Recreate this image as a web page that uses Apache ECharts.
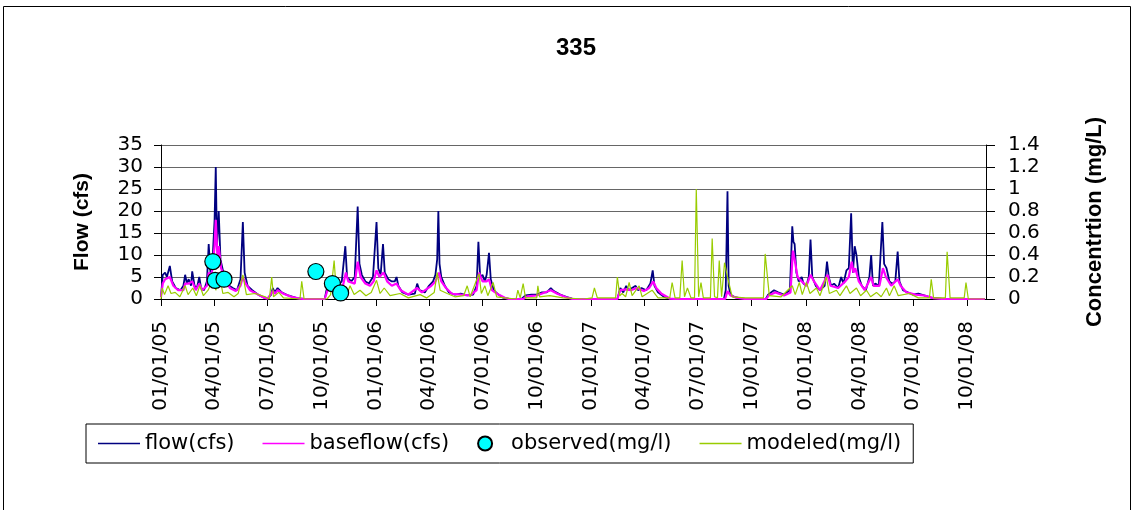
<!DOCTYPE html>
<html>
<head>
<meta charset="utf-8">
<script src="https://cdn.jsdelivr.net/npm/echarts@6/dist/echarts.min.js"></script>
<style>
  html, body { margin: 0; padding: 0; background: #fff; }
  #echart { width: 1135px; height: 510px; }
</style>
</head>
<body>
<div id="echart"></div>
<script>
// quarterly ticks on the date axis
const tickLabels = ['01/01/05', '04/01/05', '07/01/05', '10/01/05', '01/01/06', '04/01/06', '07/01/06', '10/01/06',
  '01/01/07', '04/01/07', '07/01/07', '10/01/07', '01/01/08', '04/01/08', '07/01/08', '10/01/08'];

// flow (cfs), left axis
const flow = [
  ['2005-01-01', 0.5], ['2005-01-04', 5.5], ['2005-01-08', 6], ['2005-01-11', 5], ['2005-01-16', 7.5], ['2005-01-20', 4],
  ['2005-01-26', 2.5], ['2005-02-03', 2], ['2005-02-08', 3], ['2005-02-11', 5.5], ['2005-02-14', 3.5], ['2005-02-17', 4.5],
  ['2005-02-21', 3], ['2005-02-23', 6.3], ['2005-02-27', 3], ['2005-03-03', 2.5], ['2005-03-07', 5], ['2005-03-10', 2.5],
  ['2005-03-15', 2], ['2005-03-20', 4], ['2005-03-23', 12.5], ['2005-03-26', 6], ['2005-03-30', 10], ['2005-04-02', 18],
  ['2005-04-04', 30], ['2005-04-06', 12], ['2005-04-09', 20], ['2005-04-12', 9], ['2005-04-17', 6], ['2005-04-22', 4],
  ['2005-04-27', 3], ['2005-05-03', 2.5], ['2005-05-10', 2], ['2005-05-16', 4.5], ['2005-05-20', 17.5], ['2005-05-23', 6],
  ['2005-05-28', 3], ['2005-06-05', 2], ['2005-06-15', 1], ['2005-06-25', 0.3], ['2005-07-01', 0.1], ['2005-07-07', 1],
  ['2005-07-10', 2.5], ['2005-07-13', 1.5], ['2005-07-18', 2.5], ['2005-07-25', 1.5], ['2005-08-05', 0.8], ['2005-08-20', 0.2],
  ['2005-09-01', 0], ['2005-10-06', 0], ['2005-10-09', 2], ['2005-10-13', 3.5], ['2005-10-20', 4], ['2005-10-28', 3],
  ['2005-11-04', 4], ['2005-11-10', 12], ['2005-11-13', 5], ['2005-11-20', 4], ['2005-11-26', 5], ['2005-12-01', 21],
  ['2005-12-04', 8], ['2005-12-08', 5.5], ['2005-12-14', 4], ['2005-12-20', 3.5], ['2005-12-27', 5],
  ['2006-01-02', 17.5], ['2006-01-05', 7], ['2006-01-09', 5.5], ['2006-01-13', 12.5], ['2006-01-16', 6], ['2006-01-22', 4.5],
  ['2006-01-28', 4], ['2006-02-02', 4], ['2006-02-05', 5], ['2006-02-08', 3], ['2006-02-15', 1.5], ['2006-02-25', 1],
  ['2006-03-08', 1.2], ['2006-03-12', 3.5], ['2006-03-16', 2], ['2006-03-25', 1.5], ['2006-04-01', 3], ['2006-04-08', 4],
  ['2006-04-12', 5.5], ['2006-04-15', 9], ['2006-04-17', 20], ['2006-04-19', 8], ['2006-04-22', 5], ['2006-04-28', 3],
  ['2006-05-05', 1.5], ['2006-05-15', 1], ['2006-05-25', 1.2], ['2006-06-05', 0.8], ['2006-06-15', 1], ['2006-06-21', 3],
  ['2006-06-24', 13], ['2006-06-27', 5], ['2006-07-01', 5.5], ['2006-07-05', 4], ['2006-07-08', 5.5], ['2006-07-12', 10.5],
  ['2006-07-15', 4.5], ['2006-07-20', 2], ['2006-07-28', 1], ['2006-08-05', 0.3], ['2006-08-15', 0], ['2006-09-05', 0],
  ['2006-09-12', 0.8], ['2006-09-22', 1], ['2006-10-01', 1], ['2006-10-10', 1.5], ['2006-10-18', 1.5], ['2006-10-25', 2.5],
  ['2006-10-30', 1.8], ['2006-11-10', 1], ['2006-11-20', 0.5], ['2006-11-30', 0.1], ['2006-12-05', 0],
  ['2007-02-15', 0], ['2007-02-20', 2.5], ['2007-02-25', 1.5], ['2007-03-02', 3], ['2007-03-06', 2], ['2007-03-12', 2.5],
  ['2007-03-18', 3], ['2007-03-22', 2], ['2007-03-28', 2.5], ['2007-04-05', 2], ['2007-04-12', 3.5], ['2007-04-16', 6.5],
  ['2007-04-19', 3], ['2007-04-25', 1.5], ['2007-05-05', 0.5], ['2007-05-15', 0.1], ['2007-05-25', 0],
  ['2007-08-15', 0], ['2007-08-18', 2], ['2007-08-21', 24.5], ['2007-08-23', 3], ['2007-08-26', 1], ['2007-09-01', 0.5],
  ['2007-09-10', 0.2], ['2007-09-20', 0], ['2007-10-25', 0], ['2007-10-29', 1], ['2007-11-01', 0.8], ['2007-11-08', 2],
  ['2007-11-15', 1.5], ['2007-11-25', 1], ['2007-12-05', 2], ['2007-12-09', 16.5], ['2007-12-11', 13], ['2007-12-13', 12.5],
  ['2007-12-16', 6], ['2007-12-20', 4], ['2007-12-25', 5], ['2007-12-28', 3.5],
  ['2008-01-02', 3], ['2008-01-06', 5], ['2008-01-09', 13.5], ['2008-01-12', 5], ['2008-01-18', 3], ['2008-01-25', 2],
  ['2008-02-02', 3], ['2008-02-06', 8.5], ['2008-02-09', 5], ['2008-02-13', 3], ['2008-02-18', 3.5], ['2008-02-25', 2.5],
  ['2008-03-01', 5], ['2008-03-05', 3.5], ['2008-03-10', 6.5], ['2008-03-14', 7], ['2008-03-18', 19.5], ['2008-03-21', 6],
  ['2008-03-24', 12], ['2008-03-27', 10], ['2008-03-31', 5], ['2008-04-05', 3], ['2008-04-12', 2], ['2008-04-18', 5],
  ['2008-04-21', 10], ['2008-04-24', 3], ['2008-04-28', 3.5], ['2008-05-04', 3], ['2008-05-10', 17.5], ['2008-05-13', 8],
  ['2008-05-17', 7], ['2008-05-22', 4], ['2008-05-27', 3.5], ['2008-06-01', 4], ['2008-06-05', 10.8], ['2008-06-08', 4],
  ['2008-06-14', 2], ['2008-06-22', 1.5], ['2008-07-01', 1], ['2008-07-10', 1.2], ['2008-07-20', 0.8], ['2008-08-01', 0.3],
  ['2008-08-10', 0.2], ['2008-08-20', 0], ['2008-10-31', 0]
];

// baseflow (cfs), left axis
const baseflow = [
  ['2005-01-01', 0.5], ['2005-01-04', 3.5], ['2005-01-08', 4.5], ['2005-01-16', 5], ['2005-01-22', 3], ['2005-01-30', 2],
  ['2005-02-08', 2], ['2005-02-11', 3.5], ['2005-02-17', 3.5], ['2005-02-23', 4], ['2005-03-01', 2], ['2005-03-07', 3.5],
  ['2005-03-12', 2], ['2005-03-20', 3], ['2005-03-23', 6], ['2005-03-28', 5.5], ['2005-04-02', 12], ['2005-04-04', 18],
  ['2005-04-07', 9], ['2005-04-09', 12], ['2005-04-13', 7], ['2005-04-20', 4.5], ['2005-04-28', 2.5], ['2005-05-08', 1.8],
  ['2005-05-16', 3], ['2005-05-20', 5], ['2005-05-25', 3.5], ['2005-06-01', 2], ['2005-06-15', 1], ['2005-06-25', 0.3],
  ['2005-07-01', 0.1], ['2005-07-10', 1.8], ['2005-07-14', 1.2], ['2005-07-18', 2], ['2005-07-28', 1.2], ['2005-08-10', 0.5],
  ['2005-08-25', 0.1], ['2005-09-01', 0], ['2005-10-06', 0], ['2005-10-12', 2.5], ['2005-10-20', 3], ['2005-10-30', 2.5],
  ['2005-11-06', 3], ['2005-11-11', 6], ['2005-11-15', 4], ['2005-11-26', 3.5], ['2005-12-01', 8.5], ['2005-12-06', 5],
  ['2005-12-14', 3.5], ['2005-12-22', 3], ['2005-12-28', 4],
  ['2006-01-02', 6.5], ['2006-01-07', 5], ['2006-01-14', 6], ['2006-01-20', 4], ['2006-01-28', 3], ['2006-02-05', 3.5],
  ['2006-02-12', 2], ['2006-02-25', 1], ['2006-03-12', 2.5], ['2006-03-20', 1.5], ['2006-04-05', 3], ['2006-04-12', 4],
  ['2006-04-18', 6], ['2006-04-22', 4], ['2006-04-30', 2.5], ['2006-05-10', 1.2], ['2006-05-25', 1], ['2006-06-10', 0.8],
  ['2006-06-21', 2], ['2006-06-25', 6], ['2006-07-01', 4], ['2006-07-08', 4], ['2006-07-12', 4.5], ['2006-07-17', 2],
  ['2006-07-28', 1], ['2006-08-08', 0.3], ['2006-08-15', 0], ['2006-09-08', 0], ['2006-09-15', 0.6], ['2006-10-01', 0.8],
  ['2006-10-25', 2], ['2006-11-05', 1.2], ['2006-11-20', 0.4], ['2006-12-01', 0],
  ['2007-02-15', 0], ['2007-02-20', 2], ['2007-03-01', 2.2], ['2007-03-10', 2], ['2007-03-20', 2.5], ['2007-04-01', 1.8],
  ['2007-04-10', 2.5], ['2007-04-17', 4], ['2007-04-22', 2.5], ['2007-05-01', 1.2], ['2007-05-15', 0.1], ['2007-05-25', 0],
  ['2007-08-17', 0], ['2007-08-21', 1.8], ['2007-08-26', 0.8], ['2007-09-05', 0.3], ['2007-09-20', 0], ['2007-10-26', 0],
  ['2007-10-30', 0.8], ['2007-11-10', 1.5], ['2007-11-25', 0.8], ['2007-12-06', 1.5], ['2007-12-10', 11], ['2007-12-13', 9],
  ['2007-12-18', 5], ['2007-12-25', 4],
  ['2008-01-02', 3], ['2008-01-09', 5.5], ['2008-01-15', 4], ['2008-01-25', 2], ['2008-02-07', 5.5], ['2008-02-12', 3],
  ['2008-02-25', 2.5], ['2008-03-08', 4], ['2008-03-14', 5], ['2008-03-19', 8.5], ['2008-03-22', 6], ['2008-03-25', 7],
  ['2008-03-31', 4], ['2008-04-10', 2], ['2008-04-21', 5], ['2008-04-25', 3], ['2008-05-05', 3], ['2008-05-11', 7],
  ['2008-05-16', 5], ['2008-05-25', 3], ['2008-06-05', 4.5], ['2008-06-10', 3], ['2008-06-20', 1.5], ['2008-07-05', 1],
  ['2008-07-20', 0.8], ['2008-08-05', 0.2], ['2008-08-20', 0], ['2008-10-31', 0]
];

// observed concentration (mg/l), right axis
const observed = [
  ['2005-03-30', 0.34], ['2005-04-03', 0.17], ['2005-04-18', 0.18],
  ['2005-09-21', 0.25], ['2005-10-19', 0.14], ['2005-11-02', 0.055]
];

// modeled concentration (mg/l), right axis
const modeled = [
  ['2005-01-01', 0], ['2005-01-03', 0.1], ['2005-01-07', 0.04], ['2005-01-13', 0.12], ['2005-01-18', 0.05], ['2005-01-25', 0.06],
  ['2005-02-02', 0.02], ['2005-02-11', 0.12], ['2005-02-16', 0.04], ['2005-02-24', 0.1], ['2005-03-02', 0.03], ['2005-03-08', 0.12],
  ['2005-03-14', 0.03], ['2005-03-22', 0.08], ['2005-03-30', 0.18], ['2005-04-04', 0.08], ['2005-04-11', 0.2], ['2005-04-16', 0.05],
  ['2005-04-25', 0.06], ['2005-05-05', 0.02], ['2005-05-12', 0.05], ['2005-05-20', 0.22], ['2005-05-26', 0.04], ['2005-06-10', 0.05],
  ['2005-06-27', 0.02], ['2005-07-04', 0], ['2005-07-08', 0.2], ['2005-07-11', 0.02], ['2005-07-20', 0.06], ['2005-07-28', 0.01],
  ['2005-08-25', 0], ['2005-08-28', 0.16], ['2005-09-01', 0], ['2005-10-10', 0], ['2005-10-16', 0.04], ['2005-10-22', 0.35],
  ['2005-10-26', 0.05], ['2005-11-05', 0.08], ['2005-11-12', 0.03], ['2005-11-18', 0.12], ['2005-11-25', 0.04], ['2005-12-05', 0.08],
  ['2005-12-15', 0.03], ['2005-12-24', 0.06],
  ['2006-01-02', 0.17], ['2006-01-08', 0.05], ['2006-01-15', 0.1], ['2006-01-25', 0.03], ['2006-02-11', 0.05], ['2006-02-25', 0.01],
  ['2006-03-17', 0.04], ['2006-03-28', 0.01], ['2006-04-10', 0.06], ['2006-04-15', 0.24], ['2006-04-20', 0.08], ['2006-05-02', 0.05],
  ['2006-05-15', 0.02], ['2006-05-30', 0.03], ['2006-06-05', 0.12], ['2006-06-10', 0.02], ['2006-06-25', 0.23], ['2006-06-29', 0.05],
  ['2006-07-05', 0.12], ['2006-07-10', 0.03], ['2006-07-19', 0.15], ['2006-07-25', 0.02], ['2006-08-08', 0.01], ['2006-08-27', 0],
  ['2006-08-30', 0.08], ['2006-09-03', 0.01], ['2006-09-08', 0.14], ['2006-09-12', 0.01], ['2006-10-01', 0.01], ['2006-10-03', 0.12],
  ['2006-10-06', 0.02], ['2006-10-23', 0.03], ['2006-11-15', 0.01], ['2006-12-20', 0],
  ['2007-01-03', 0.01], ['2007-01-07', 0.1], ['2007-01-12', 0.01], ['2007-02-12', 0.01], ['2007-02-15', 0.2], ['2007-02-19', 0.03],
  ['2007-02-23', 0.05], ['2007-03-01', 0.02], ['2007-03-07', 0.15], ['2007-03-12', 0.03], ['2007-03-24', 0.12], ['2007-03-29', 0.02],
  ['2007-04-15', 0.08], ['2007-04-25', 0.01], ['2007-05-15', 0.01], ['2007-05-19', 0.15], ['2007-05-24', 0.01], ['2007-06-01', 0.01],
  ['2007-06-05', 0.35], ['2007-06-09', 0.02], ['2007-06-14', 0.1], ['2007-06-20', 0.01], ['2007-06-26', 0.01], ['2007-06-29', 1.0],
  ['2007-07-03', 0.02], ['2007-07-07', 0.15], ['2007-07-11', 0.01], ['2007-07-23', 0.01], ['2007-07-26', 0.55], ['2007-07-30', 0.02],
  ['2007-08-04', 0.01], ['2007-08-07', 0.35], ['2007-08-11', 0.02], ['2007-08-16', 0.33], ['2007-08-21', 0.2], ['2007-08-29', 0.02],
  ['2007-09-20', 0.01], ['2007-10-21', 0.01], ['2007-10-24', 0.41], ['2007-10-31', 0.03], ['2007-11-20', 0.02], ['2007-12-09', 0.12],
  ['2007-12-14', 0.04], ['2007-12-21', 0.15], ['2007-12-26', 0.04],
  ['2008-01-02', 0.15], ['2008-01-08', 0.05], ['2008-01-19', 0.1], ['2008-01-25', 0.03], ['2008-02-05', 0.2], ['2008-02-10', 0.05],
  ['2008-02-22', 0.08], ['2008-02-28', 0.03], ['2008-03-10', 0.12], ['2008-03-16', 0.05], ['2008-03-27', 0.1], ['2008-04-03', 0.03],
  ['2008-04-13', 0.08], ['2008-04-20', 0.02], ['2008-04-30', 0.06], ['2008-05-08', 0.02], ['2008-05-17', 0.1], ['2008-05-22', 0.03],
  ['2008-05-30', 0.12], ['2008-06-06', 0.03], ['2008-06-25', 0.05], ['2008-07-10', 0.01], ['2008-07-29', 0.01], ['2008-08-01', 0.18],
  ['2008-08-05', 0.01], ['2008-08-25', 0.01], ['2008-08-28', 0.43], ['2008-09-02', 0.01], ['2008-09-26', 0.01], ['2008-09-29', 0.15],
  ['2008-10-03', 0], ['2008-10-31', 0]
];

// date helpers (local time, day resolution)
function isoToTime(s) {
  const p = s.split('-');
  return new Date(Number(p[0]), Number(p[1]) - 1, Number(p[2])).getTime();
}
function labelToTime(s) {
  const p = s.split('/');
  return new Date(2000 + Number(p[2]), Number(p[0]) - 1, Number(p[1])).getTime();
}
function toXY(arr) {
  return arr.map(d => [isoToTime(d[0]), d[1]]);
}
const tickTimes = tickLabels.map(labelToTime);

const txt = { fontFamily: 'DejaVu Sans', fontSize: 20, color: '#000' };
// thin bar used as the legend key for the line series
const lineKey = 'path://M0,0 L40,0 L40,1.4 L0,1.4 Z';

let echart = echarts.init(document.getElementById('echart'));

let option = {
  backgroundColor: '#fff',
  animation: false,
  title: {
    text: '335',
    left: 571,
    top: 31,
    textAlign: 'center',
    textStyle: { fontFamily: 'Liberation Sans', fontWeight: 'bold', fontSize: 24, color: '#000' }
  },
  graphic: [{
    type: 'rect',
    shape: { x: 3.5, y: 6.5, width: 1127, height: 530 },
    style: { fill: 'none', stroke: '#000', lineWidth: 1 },
    silent: true
  }],
  grid: { left: 161, right: 149, top: 145, bottom: 211 },
  legend: {
    left: 86,
    top: 424,
    padding: [9, 12],
    borderColor: '#000',
    borderWidth: 1,
    itemWidth: 42,
    itemHeight: 14,
    itemGap: 28,
    textStyle: { fontFamily: 'DejaVu Sans', fontSize: 21, color: '#000' },
    data: [
      { name: 'flow(cfs)', icon: lineKey },
      { name: 'baseflow(cfs)', icon: lineKey },
      { name: 'observed(mg/l)', icon: 'circle' },
      { name: 'modeled(mg/l)', icon: lineKey }
    ]
  },
  xAxis: {
    type: 'value',
    min: labelToTime('01/01/05'),
    max: new Date(2008, 10, 2).getTime(),
    axisLine: { show: true, onZero: false, lineStyle: { color: '#000', width: 1 } },
    axisTick: { show: true, length: 7, customValues: tickTimes, lineStyle: { color: '#000' } },
    axisLabel: {
      customValues: tickTimes,
      rotate: 90,
      margin: 22,
      ...txt,
      formatter: function (v) {
        const i = tickTimes.indexOf(v);
        return i >= 0 ? tickLabels[i] : '';
      }
    },
    splitLine: { show: false }
  },
  yAxis: [{
    type: 'value',
    min: 0,
    max: 35,
    interval: 5,
    name: 'Flow (cfs)',
    nameLocation: 'middle',
    nameGap: 68,
    nameTextStyle: { fontFamily: 'Liberation Sans', fontWeight: 'bold', fontSize: 21, color: '#000' },
    axisLine: { show: true, lineStyle: { color: '#000', width: 1 } },
    axisTick: { show: true, length: 7, lineStyle: { color: '#000' } },
    axisLabel: { margin: 18, ...txt },
    splitLine: { show: true, lineStyle: { color: '#666', width: 1.2 } }
  }, {
    type: 'value',
    min: 0,
    max: 1.4,
    interval: 0.2,
    position: 'right',
    name: 'Concentrtion (mg/L)',
    nameLocation: 'middle',
    nameGap: 98,
    nameTextStyle: { fontFamily: 'Liberation Sans', fontWeight: 'bold', fontSize: 22, color: '#000' },
    axisLine: { show: true, lineStyle: { color: '#000', width: 1 } },
    axisTick: { show: true, length: 9, lineStyle: { color: '#000' } },
    axisLabel: { margin: 22, ...txt },
    splitLine: { show: false }
  }],
  series: [
    {
      name: 'flow(cfs)',
      type: 'line',
      yAxisIndex: 0,
      data: toXY(flow),
      symbol: 'none',
      color: '#000080',
      lineStyle: { color: '#000080', width: 1.8 },
      z: 2
    },
    {
      name: 'baseflow(cfs)',
      type: 'line',
      yAxisIndex: 0,
      data: toXY(baseflow),
      symbol: 'none',
      color: '#ff00ff',
      lineStyle: { color: '#ff00ff', width: 2.2 },
      z: 3
    },
    {
      name: 'observed(mg/l)',
      type: 'scatter',
      yAxisIndex: 1,
      data: toXY(observed),
      symbol: 'circle',
      symbolSize: 16,
      itemStyle: { color: '#00ffff', borderColor: '#000', borderWidth: 1.2, opacity: 1 },
      z: 5
    },
    {
      name: 'modeled(mg/l)',
      type: 'line',
      yAxisIndex: 1,
      data: toXY(modeled),
      symbol: 'none',
      color: '#99cc00',
      lineStyle: { color: '#99cc00', width: 1.2 },
      z: 4
    }
  ]
};

echart.setOption(option);
</script>
</body>
</html>
